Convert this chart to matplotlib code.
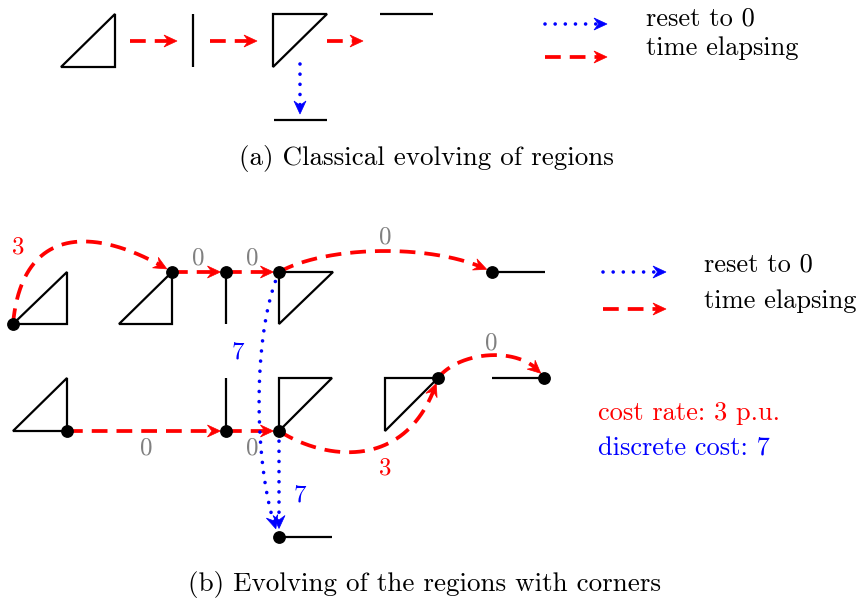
import matplotlib

matplotlib.use("Agg")

import matplotlib.pyplot as plt  # noqa: E402
import numpy as np  # noqa: E402
from matplotlib.patches import Polygon  # noqa: E402

plt.rcParams["font.family"] = ["cmr10", "DejaVu Serif"]
plt.rcParams["axes.formatter.use_mathtext"] = True

RED, BLUE, GRAY = "#ff0000", "#0000ff", "#808080"
DOT_R = 5.5  # px, radius of the corner dots

# ---- (a) classical evolving of regions (pixel coords, y down) ----
A_TRIANGLES = [
    [(61, 67), (115, 67), (115, 14)],
    [(273, 14), (327, 14), (273, 67)],
]
A_SEGMENTS = [
    [(193, 14), (193, 67)],
    [(380, 14), (433, 14)],
    [(274, 120), (327, 120)],
]
A_TIME = [[(130, 41), (177, 41)], [(210, 41), (257, 41)], [(327, 41), (363, 41)]]
A_RESET = [[(300, 64), (300, 114)]]

# ---- (b) regions with corners ----
B_TRIANGLES = [
    [(13, 324), (67, 324), (67, 272)],
    [(119, 324), (172, 324), (172, 272)],
    [(279, 272), (333, 272), (279, 324)],
    [(13, 431), (67, 431), (67, 378)],
    [(279, 431), (279, 378), (332, 378)],
    [(385, 378), (438, 378), (385, 431)],
]
B_SEGMENTS = [
    [(226, 272), (226, 324)],
    [(492, 272), (545, 272)],
    [(226, 378), (226, 431)],
    [(492, 378), (544, 378)],
    [(279, 537), (332, 537)],
]
B_DOTS_X = [13, 172, 226, 279, 492, 67, 226, 279, 438, 544, 279]
B_DOTS_Y = [324, 272, 272, 272, 272, 431, 431, 431, 378, 378, 537]

# time-elapsing edges: straight (2 points) or cubic Bezier (4 control points)
B_TIME = [
    [(13, 324), (22, 225), (95, 225), (172, 272)],
    [(172, 272), (226, 272)],
    [(226, 272), (279, 272)],
    [(279, 272), (330, 244), (440, 244), (492, 272)],
    [(67, 431), (226, 431)],
    [(226, 431), (279, 431)],
    [(279, 431), (328, 462), (410, 470), (438, 378)],
    [(438, 378), (460, 350), (525, 345), (544, 378)],
]
B_RESET = [
    [(279, 272), (250, 340), (255, 480), (279, 537)],
    [(279, 431), (279, 537)],
]

# edge labels: (x, y, text, colour)
LABELS = [
    (18, 247, "3", RED), (198, 258, "0", GRAY), (252, 258, "0", GRAY),
    (385, 237, "0", GRAY), (146, 448, "0", GRAY), (252, 448, "0", GRAY),
    (385, 468, "3", RED), (491, 343, "0", GRAY), (238, 352, "7", BLUE),
    (300, 495, "7", BLUE),
]

RED_LW, BLUE_LW, BLACK_LW = 2.7, 2.6, 1.6
RED_LS = (0, (4.2, 2.4))
BLUE_LS = (0, (0.01, 2.8))


def curve_points(ctrl):
    p = np.array(ctrl, dtype=float)
    t = np.linspace(0, 1, 400)[:, None]
    if len(p) == 2:
        return p[0] + t * (p[1] - p[0])
    return ((1 - t) ** 3 * p[0] + 3 * (1 - t) ** 2 * t * p[1]
            + 3 * (1 - t) * t ** 2 * p[2] + t ** 3 * p[3])


def arrow(ax, ctrl, kind, end_gap=0.0):
    pts = curve_points(ctrl)
    color = RED if kind == "time" else BLUE
    head_len, head_w, notch = 13.0, 6.0, 4.5
    # place the tip end_gap px before the end point
    dist_from_end = np.linalg.norm(pts - pts[-1], axis=1)
    i_tip = np.where(dist_from_end >= end_gap)[0][-1] if end_gap > 0 else len(pts) - 1
    tip = pts[i_tip]
    back = np.where(np.linalg.norm(pts - tip, axis=1) >= head_len)[0]
    back = back[back < i_tip][-1]
    d = tip - pts[back]
    d /= np.linalg.norm(d)
    n = np.array([-d[1], d[0]])
    stop = tip - (head_len - notch - 2) * d
    i_stop = np.where(np.linalg.norm(pts - stop, axis=1) <= 3)[0]
    i_stop = i_stop[i_stop <= i_tip][0] if len(i_stop) else back
    line = np.vstack([pts[:i_stop], stop])
    if kind == "time":
        ax.plot(line[:, 0], line[:, 1], color=color, lw=RED_LW, ls=RED_LS,
                dash_capstyle="butt", zorder=3)
    else:
        ax.plot(line[:, 0], line[:, 1], color=color, lw=BLUE_LW, ls=BLUE_LS,
                dash_capstyle="round", zorder=3)
    head = [tip, tip - head_len * d + head_w * n, tip - (head_len - notch) * d,
            tip - head_len * d - head_w * n]
    ax.add_patch(Polygon(head, closed=True, facecolor=color, edgecolor=color,
                         lw=0.5, zorder=4))


def main():
    fig = plt.figure(figsize=(8.61, 6.01), dpi=100)
    ax = fig.add_axes([0, 0, 1, 1])
    ax.set_xlim(0, 861)
    ax.set_ylim(601, 0)
    ax.axis("off")

    for tri in A_TRIANGLES + B_TRIANGLES:
        ax.add_patch(Polygon(tri, closed=True, fill=False, edgecolor="black",
                             lw=BLACK_LW, joinstyle="miter", zorder=2))
    for seg in A_SEGMENTS + B_SEGMENTS:
        xs, ys = zip(*seg)
        ax.plot(xs, ys, color="black", lw=BLACK_LW, solid_capstyle="butt", zorder=2)

    for ctrl in A_TIME:
        arrow(ax, ctrl, "time")
    for ctrl in A_RESET:
        arrow(ax, ctrl, "reset")
    for ctrl in B_TIME:
        arrow(ax, ctrl, "time", end_gap=DOT_R)
    for ctrl in B_RESET:
        arrow(ax, ctrl, "reset", end_gap=DOT_R + 3)

    ax.plot(B_DOTS_X, B_DOTS_Y, "o", color="black", ms=8.2, zorder=5)

    for x, y, s, c in LABELS:
        ax.text(x, y, s, color=c, fontsize=18, ha="center", va="center", zorder=6)

    # legends
    arrow(ax, [(545, 24), (607, 24)], "reset")
    arrow(ax, [(545, 57), (607, 57)], "time")
    ax.text(646, 26, "reset to 0", fontsize=19, va="baseline")
    ax.text(646, 55, "time elapsing", fontsize=19, va="baseline")
    arrow(ax, [(603, 272), (666, 272)], "reset")
    arrow(ax, [(603, 309), (666, 309)], "time")
    ax.text(704, 272, "reset to 0", fontsize=19, va="baseline")
    ax.text(704, 308, "time elapsing", fontsize=19, va="baseline")
    ax.text(598, 420, "cost rate: 3 p.u.", fontsize=19, va="baseline", color=RED)
    ax.text(598, 456, "discrete cost: 7", fontsize=19, va="baseline", color=BLUE)

    # captions
    ax.text(426, 165, "(a) Classical evolving of regions", fontsize=19.5,
            ha="center", va="baseline")
    ax.text(424, 591, "(b) Evolving of the regions with corners", fontsize=19.5,
            ha="center", va="baseline")

    fig.savefig("out.png", dpi=100)


if __name__ == "__main__":
    main()
